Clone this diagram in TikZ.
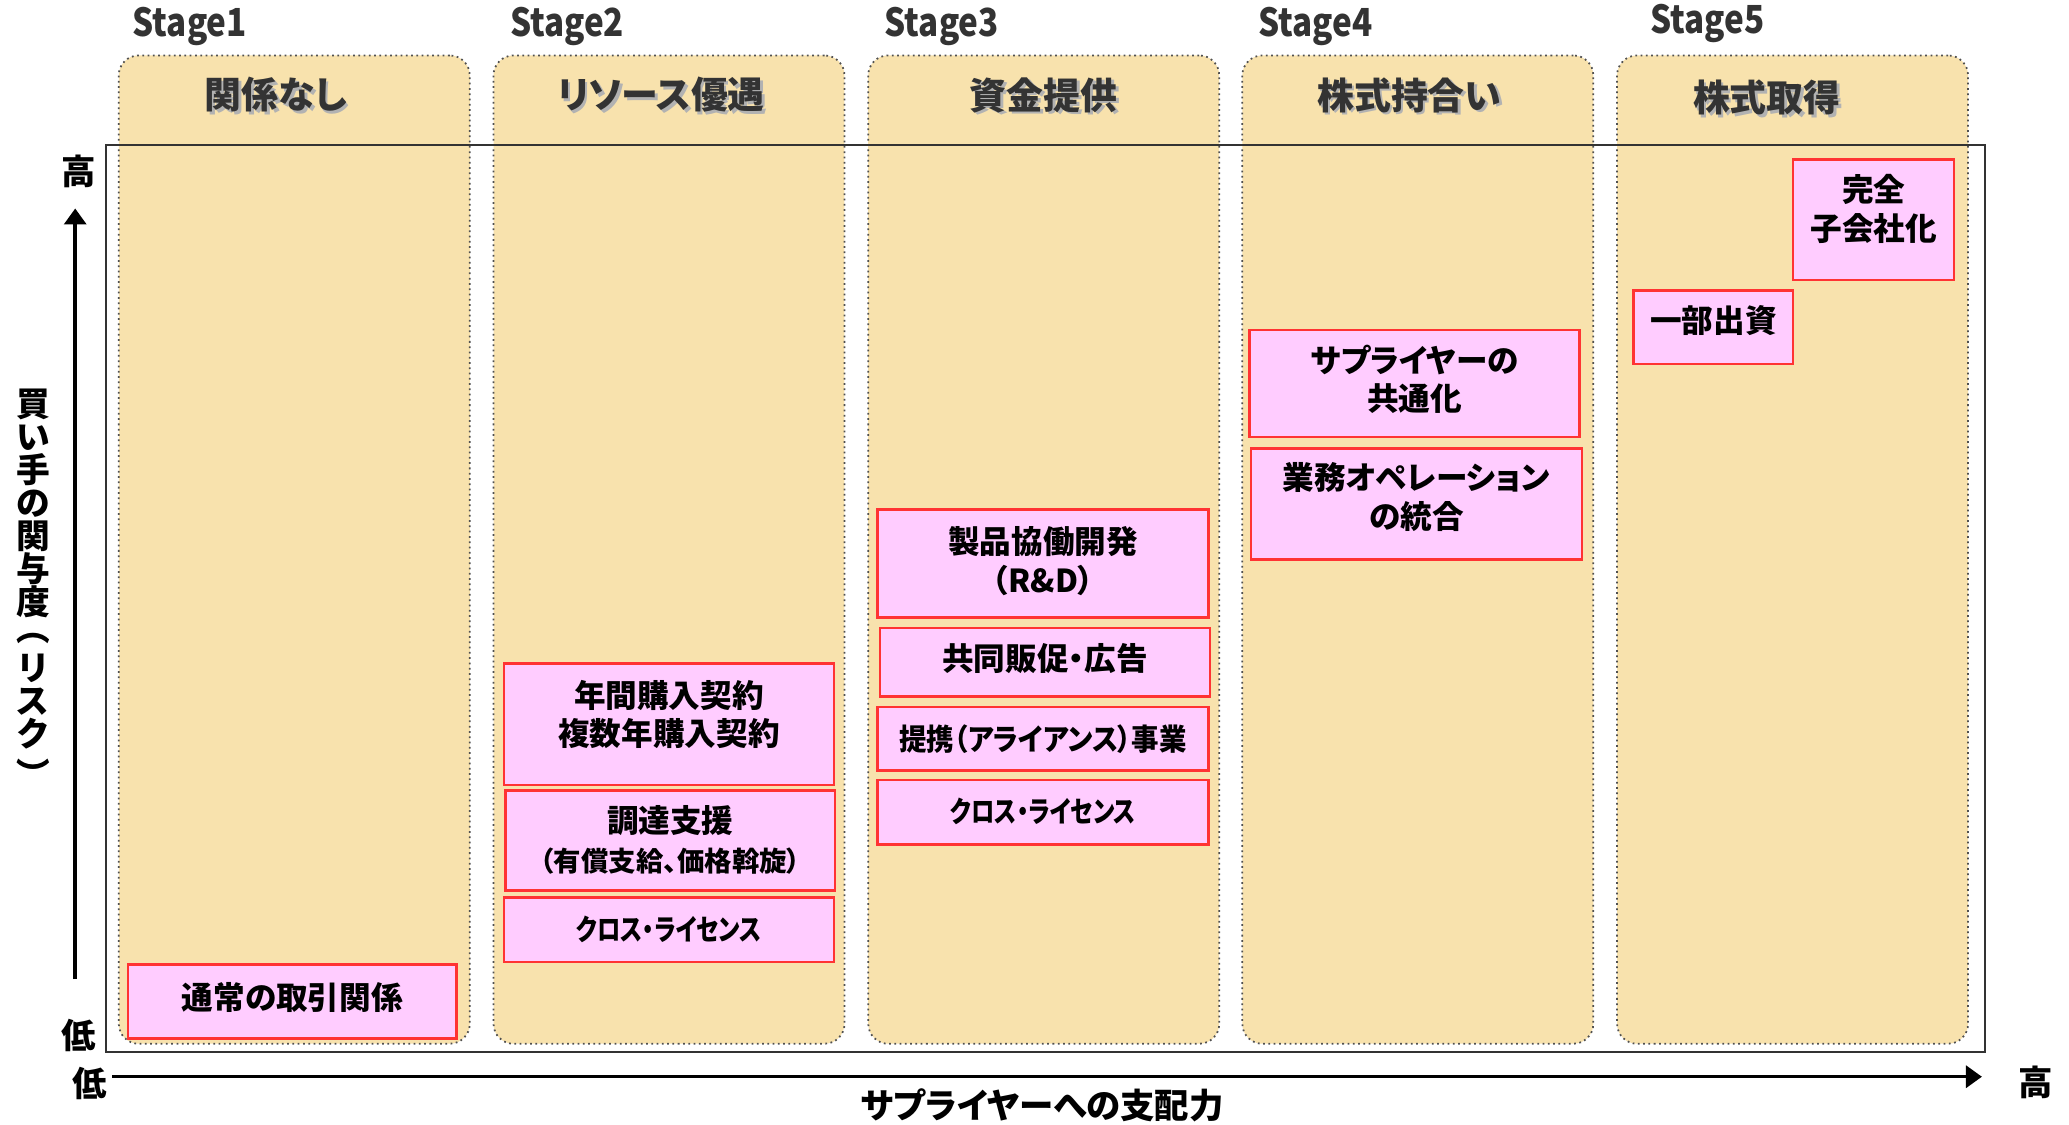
\documentclass[tikz,border=0pt]{standalone}
\usepackage{fontspec}
\setmainfont{Noto Sans CJK JP}[RawFeature=+palt]
\usepackage{graphicx}
\usetikzlibrary{arrows.meta}
\definecolor{colfill}{HTML}{F8E2AD}
\definecolor{colline}{HTML}{505050}
\definecolor{pinkfill}{HTML}{FFCCFF}
\definecolor{pinkline}{HTML}{FF3333}
\definecolor{darktxt}{HTML}{333333}
\def\pxu{0.013195cm}
\newcommand{\narrowtxt}[2]{\scalebox{#1}[1]{#2}}
\tikzset{
  column/.style={draw=colline, densely dotted, line width=0.5pt, fill=colfill,
    rounded corners=0.2cm, minimum width=266*\pxu, minimum height=749*\pxu, inner sep=0pt},
  pbox/.style={draw=pinkline, line width=0.7pt, fill=pinkfill, inner sep=0pt},
  btext/.style={align=center, inner sep=0pt, font=\fontsize{9}{11}\selectfont\bfseries},
  bsize/.style 2 args={minimum width=#1*\pxu, minimum height=#2*\pxu},
  stagelbl/.style={anchor=west, text=darktxt, font=\fontsize{11}{12}\selectfont\bfseries, inner sep=0pt},
  hdr/.style={text=darktxt, font=\fontsize{10.5}{12}\selectfont\bfseries, inner sep=0pt},
  hdrshadow/.style={text=black!30, font=\fontsize{10.5}{12}\selectfont\bfseries, inner sep=0pt},
  axislbl/.style={font=\fontsize{9.8}{11}\selectfont\bfseries, inner sep=0pt},
  axisarrow/.style={line width=1pt, -{Triangle[length=0.16cm, width=0.22cm]}},
  frame/.style={draw=darktxt, line width=0.6pt, inner sep=0pt},
}
\begin{document}
\begin{tikzpicture}[x=0.013195cm, y=-0.013195cm]
\useasboundingbox[fill=white] (0,0) rectangle (1568,852);

% stage labels
\node[stagelbl] (st1) at (100,20) {\narrowtxt{0.86}{Stage1}};
\node[stagelbl] (st2) at (386,20) {\narrowtxt{0.86}{Stage2}};
\node[stagelbl] (st3) at (670,20) {\narrowtxt{0.86}{Stage3}};
\node[stagelbl] (st4) at (953,20) {\narrowtxt{0.86}{Stage4}};
\node[stagelbl] (st5) at (1250,18) {\narrowtxt{0.86}{Stage5}};

% columns
\node[column] (c1) at (223,416.5) {};
\node[column] (c2) at (507,416.5) {};
\node[column] (c3) at (791,416.5) {};
\node[column] (c4) at (1074.5,416.5) {};
\node[column] (c5) at (1358.5,416.5) {};

% headers with shadow
\node[hdrshadow] (h1s) at (211,74) {関係なし};
\node[hdr] (h1) at (209,72) {関係なし};
\node[hdrshadow] (h2s) at (503,74) {リソース優遇};
\node[hdr] (h2) at (501,72) {リソース優遇};
\node[hdrshadow] (h3s) at (793,74) {資金提供};
\node[hdr] (h3) at (791,72) {資金提供};
\node[hdrshadow] (h4s) at (1070,74) {株式持合い};
\node[hdr] (h4) at (1068,72) {株式持合い};
\node[hdrshadow] (h5s) at (1341,76) {株式取得};
\node[hdr] (h5) at (1339,74) {株式取得};

% frame
\node[frame, bsize={1424}{687}] (fr) at (792,453.5) {};

% pink boxes
\node[pbox, bsize={249}{56}] (b11) at (221.5,759) {};
\path (b11.center) ++(0,-3) node[btext] (t11) {通常の取引関係};

\node[pbox, bsize={250}{92}] (b21) at (507,549) {};
\path (b21.center) ++(0,-7.5) node[btext] (t21) {年間購入契約\\複数年購入契約};
\node[pbox, bsize={250}{76}] (b22) at (508,637) {};
\path (b22.center) ++(0,-0.5) node[btext] (t22) {調達支援\\{\fontsize{7.8}{9}\selectfont （有償支給、価格斡旋）}};
\node[pbox, bsize={250}{49}] (b23) at (507,704.5) {};
\path (b23.center) ++(0,-0.5) node[btext, font=\fontsize{8.3}{10}\selectfont\bfseries] (t23) {\narrowtxt{0.8}{クロス・ライセンス}};

\node[pbox, bsize={251}{82}] (b31) at (790.5,427) {};
\path (b31.center) ++(0,-2) node[btext] (t31) {製品協働開発\\（R\&D）};
\node[pbox, bsize={250}{52}] (b32) at (792,502) {};
\path (b32.center) ++(0,-3) node[btext] (t32) {共同販促・広告};
\node[pbox, bsize={251}{48}] (b33) at (790.5,560) {};
\path (b33.center) node[btext, font=\fontsize{8.5}{10}\selectfont\bfseries] (t33) {\narrowtxt{0.92}{提携（アライアンス）事業}};
\node[pbox, bsize={251}{49}] (b34) at (790.5,615.5) {};
\path (b34.center) ++(0,-0.5) node[btext, font=\fontsize{8.3}{10}\selectfont\bfseries] (t34) {\narrowtxt{0.8}{クロス・ライセンス}};

\node[pbox, bsize={250}{81}] (b41) at (1072,290.5) {};
\path (b41.center) ++(0,-3) node[btext] (t41) {サプライヤーの\\共通化};
\node[pbox, bsize={251}{84}] (b42) at (1073.5,382) {};
\path (b42.center) ++(0,-5.5) node[btext] (t42) {業務オペレーション\\の統合};

\node[pbox, bsize={121}{56}] (b51) at (1298.5,248) {};
\path (b51.center) ++(0,-5) node[btext] (t51) {一部出資};
\node[pbox, bsize={122}{91}] (b52) at (1420,166.5) {};
\path (b52.center) ++(0,-8) node[btext] (t52) {完全\\子会社化};

% axes
\coordinate (ya0) at (57,742);
\coordinate (ya1) at (57,158);
\draw[axisarrow] (ya0) -- (ya1);
\coordinate (xa0) at (85,816);
\coordinate (xa1) at (1502,816);
\draw[axisarrow] (xa0) -- (xa1);

\node[axislbl] (yhi) at (60,130) {高};
\node[axislbl] (ylo) at (60,785) {低};
\node[axislbl] (xlo) at (68,821) {低};
\node[axislbl] (xhi) at (1543,820) {高};
\node[axislbl] (xlab) at (790,838) {サプライヤーへの支配力};
\node[axislbl, align=center, font=\fontsize{9.6}{9.4}\selectfont\bfseries] (ylab) at (25,443)
  {買\\い\\手\\の\\関\\与\\度\\\rotatebox[origin=c]{-90}{（}\\リ\\ス\\ク\\\rotatebox[origin=c]{-90}{）}};
\end{tikzpicture}
\end{document}
